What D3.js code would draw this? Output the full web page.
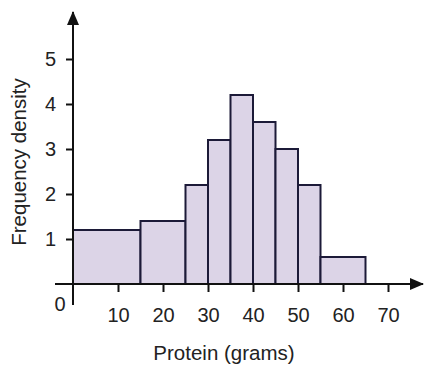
<!DOCTYPE html>
<html>
<head>
<meta charset="utf-8">
<script src="https://cdn.jsdelivr.net/npm/d3@7"></script>
<style>
  body { margin: 0; background: #fff; }
  text { font-family: "Liberation Sans", Arial, sans-serif; fill: #222; }
</style>
</head>
<body>
<div id="chartContainer"></div>
<script>
// class boundaries and frequency densities
const binStarts = [0, 15, 25, 30, 35, 40, 45, 50, 55];
const binEnds = [15, 25, 30, 35, 40, 45, 50, 55, 65];
const densities = [1.2, 1.4, 2.2, 3.2, 4.2, 3.6, 3.0, 2.2, 0.6];
const xTicks = [10, 20, 30, 40, 50, 60, 70];
const yTicks = [1, 2, 3, 4, 5];

const svgWidth = 425;
const svgHeight = 367;

const svg = d3.select('#chartContainer')
    .append('svg')
    .attr('width', svgWidth)
    .attr('height', svgHeight);

const xScale = d3.scaleLinear().domain([0, 70]).range([73, 388]);
const yScale = d3.scaleLinear().domain([0, 5]).range([284, 59]);

const bins = binStarts.map((s, i) => ({ x0: s, x1: binEnds[i], d: densities[i] }));

svg.selectAll('.bar')
    .data(bins)
    .enter().append('rect')
    .attr('class', 'bar')
    .attr('x', d => xScale(d.x0))
    .attr('y', d => yScale(d.d))
    .attr('width', d => xScale(d.x1) - xScale(d.x0))
    .attr('height', d => yScale(0) - yScale(d.d))
    .attr('fill', '#dcd4e7')
    .attr('stroke', '#1c1a38')
    .attr('stroke-width', 2);

// axis lines with arrow heads
const defs = svg.append('defs');
defs.append('marker')
    .attr('id', 'arrow')
    .attr('viewBox', '0 0 14 12')
    .attr('refX', 13).attr('refY', 6)
    .attr('markerUnits', 'userSpaceOnUse')
    .attr('markerWidth', 14).attr('markerHeight', 12)
    .attr('orient', 'auto')
    .append('path')
    .attr('d', 'M0,0 L14,6 L0,12 z')
    .attr('fill', '#111');

svg.append('line')
    .attr('x1', 55).attr('x2', 423)
    .attr('y1', yScale(0)).attr('y2', yScale(0))
    .attr('stroke', '#111').attr('stroke-width', 2)
    .attr('marker-end', 'url(#arrow)');

svg.append('line')
    .attr('x1', xScale(0)).attr('x2', xScale(0))
    .attr('y1', 305).attr('y2', 12)
    .attr('stroke', '#111').attr('stroke-width', 2)
    .attr('marker-end', 'url(#arrow)');

const xAxis = d3.axisBottom(xScale).tickValues(xTicks).tickSize(8).tickPadding(16);
svg.append('g')
    .attr('class', 'x-axis')
    .attr('transform', `translate(0, ${yScale(0)})`)
    .call(xAxis)
    .call(g => g.select('.domain').remove())
    .call(g => g.selectAll('.tick line').attr('stroke', '#111').attr('stroke-width', 2))
    .call(g => g.selectAll('.tick text').attr('font-size', 20).attr('font-family', null).attr('fill', '#222'));

const yAxis = d3.axisLeft(yScale).tickValues(yTicks).tickFormat(d3.format('d')).tickSize(7).tickPadding(10);
svg.append('g')
    .attr('class', 'y-axis')
    .attr('transform', `translate(${xScale(0)}, 0)`)
    .call(yAxis)
    .call(g => g.select('.domain').remove())
    .call(g => g.selectAll('.tick line').attr('stroke', '#111').attr('stroke-width', 2))
    .call(g => g.selectAll('.tick text').attr('font-size', 20).attr('font-family', null).attr('fill', '#222'));

svg.append('text')
    .attr('x', 60).attr('y', 311)
    .attr('text-anchor', 'middle')
    .attr('font-size', 20)
    .text('0');

svg.append('text')
    .attr('class', 'axis-title')
    .attr('x', 224)
    .attr('y', 360)
    .attr('text-anchor', 'middle')
    .attr('font-size', 20.5)
    .text('Protein (grams)');

svg.append('text')
    .attr('class', 'axis-title')
    .attr('x', -162)
    .attr('y', 26)
    .attr('text-anchor', 'middle')
    .attr('transform', 'rotate(-90)')
    .attr('font-size', 20.5)
    .text('Frequency density');
</script>
</body>
</html>
